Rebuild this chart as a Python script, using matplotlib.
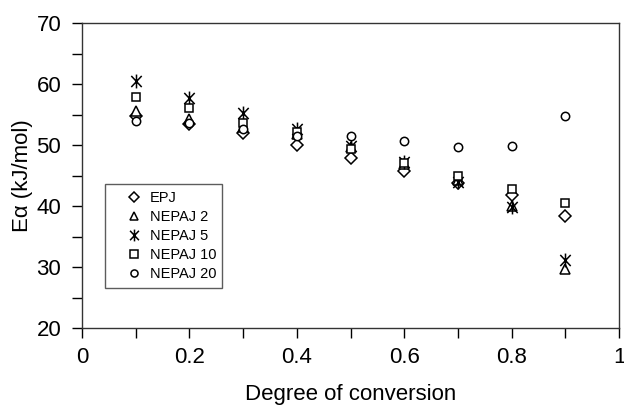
import matplotlib
matplotlib.use("Agg")
import matplotlib.pyplot as plt
from matplotlib.path import Path
from matplotlib.ticker import MultipleLocator

plt.rcParams['font.family'] = ['Liberation Sans', 'DejaVu Sans']

conversion = [0.1, 0.2, 0.3, 0.4, 0.5, 0.6, 0.7, 0.8, 0.9]
epj = [54.8, 53.4, 51.9, 50.0, 47.8, 45.7, 43.8, 41.8, 38.3]
nepaj2 = [55.5, 54.2, 53.0, 51.8, 49.6, 46.9, 44.2, 40.0, 29.7]
nepaj5 = [60.5, 57.7, 55.3, 52.6, 49.8, 47.2, 44.0, 39.9, 31.1]
nepaj10 = [57.9, 56.1, 53.6, 52.1, 49.4, 47.0, 45.0, 42.8, 40.5]
nepaj20 = [54.0, 53.6, 52.6, 51.4, 51.4, 50.6, 49.7, 49.8, 54.7]

# Excel-style star: an X with a vertical bar through it
star = Path([(0, -1), (0, 1), (-0.75, -0.8), (0.75, 0.8), (-0.75, 0.8), (0.75, -0.8)],
            [Path.MOVETO, Path.LINETO, Path.MOVETO, Path.LINETO, Path.MOVETO, Path.LINETO])

series = [
    ("EPJ", epj, "D", 6),
    ("NEPAJ 2", nepaj2, "^", 7),
    ("NEPAJ 5", nepaj5, star, 10),
    ("NEPAJ 10", nepaj10, "s", 6),
    ("NEPAJ 20", nepaj20, "o", 6),
]

fig = plt.figure(figsize=(6.24, 4.07), dpi=100)
ax = fig.add_axes([0.1314, 0.194, 0.8606, 0.7495])

for name, vals, mk, ms in series:
    ax.plot(conversion, vals, linestyle='none', marker=mk, markersize=ms,
            markerfacecolor='white', markeredgecolor='black',
            markeredgewidth=1.1, color='black', label=name)

ax.set_xlim(0, 1)
ax.set_ylim(20, 70)
ax.xaxis.set_major_locator(MultipleLocator(0.2))
ax.xaxis.set_minor_locator(MultipleLocator(0.1))
ax.yaxis.set_major_locator(MultipleLocator(10))
ax.yaxis.set_minor_locator(MultipleLocator(5))
ax.set_xticks([0, 0.2, 0.4, 0.6, 0.8, 1.0])
ax.set_xticklabels(['0', '0.2', '0.4', '0.6', '0.8', '1'])
ax.tick_params(which='both', direction='out', length=7, width=1, colors='black',
               labelsize=16, top=False, right=False)
ax.tick_params(axis='y', pad=8)
ax.tick_params(axis='x', pad=7)
for sp in ax.spines.values():
    sp.set_color('#333333')
    sp.set_linewidth(1.0)

ax.set_xlabel('Degree of conversion', fontsize=16, labelpad=11)
ax.set_ylabel('Eα (kJ/mol)', fontsize=16, labelpad=2.5)

leg = ax.legend(loc='upper left', bbox_to_anchor=(0.043, 0.472, 0.217, 0.0),
                mode='expand', fontsize=10.5, frameon=True, fancybox=False,
                handlelength=3.0, handletextpad=-0.4, borderpad=0.45,
                labelspacing=0.35, borderaxespad=0, markerscale=0.85)
leg.get_frame().set_edgecolor('#333333')
leg.get_frame().set_linewidth(1.0)

fig.savefig('out.png', dpi=100)
